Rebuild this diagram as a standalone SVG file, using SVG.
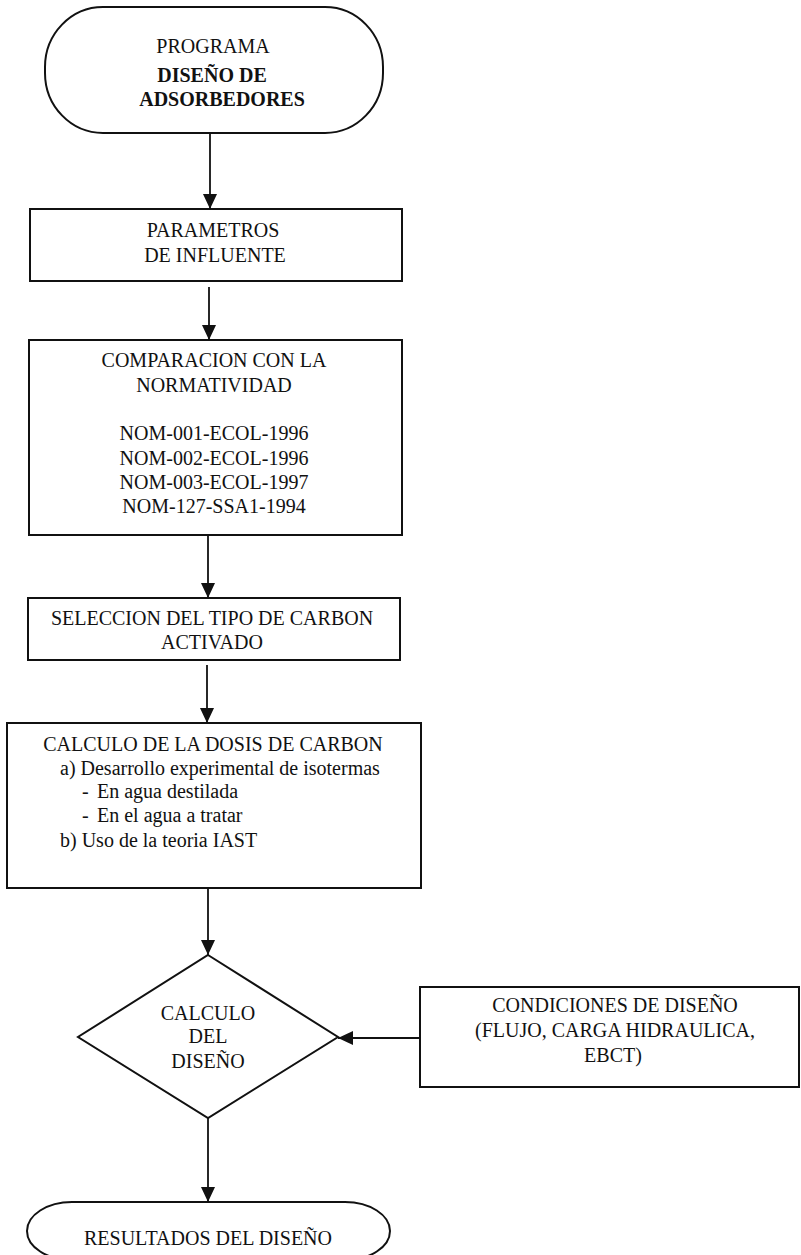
<svg xmlns="http://www.w3.org/2000/svg" width="801" height="1255" viewBox="0 0 801 1255">
<style>
.shape{fill:#fff;stroke:#111;stroke-width:2}
.t{font-family:"Liberation Serif","Times New Roman",serif;font-size:20px;fill:#111}
.c{text-anchor:middle}
.b{font-weight:bold}
.conn{stroke:#111;stroke-width:1.8;fill:none}
</style>
<defs>
<marker id="ah" markerUnits="userSpaceOnUse" markerWidth="15" markerHeight="14" refX="15" refY="7" orient="auto">
<path d="M0,0 L15,7 L0,14 Z" fill="#111"/>
</marker>
</defs>
<rect width="801" height="1255" fill="#fff"/>
<g id="n-programa">
<rect class="shape" x="45" y="7" width="338" height="126" rx="58" ry="60"/>
<text class="t c" x="213" y="53">PROGRAMA</text>
<text class="t c b" x="212" y="82">DISEÑO DE</text>
<text class="t c b" x="222" y="106">ADSORBEDORES</text>
</g>
<g id="n-parametros">
<rect class="shape" x="30" y="209" width="372" height="72"/>
<text class="t c" x="213" y="237">PARAMETROS</text>
<text class="t c" x="215" y="262">DE INFLUENTE</text>
</g>
<g id="n-comparacion">
<rect class="shape" x="29" y="340" width="373" height="195"/>
<text class="t c" x="214" y="367">COMPARACION CON LA</text>
<text class="t c" x="214" y="392">NORMATIVIDAD</text>
<text class="t c" x="214" y="440">NOM-001-ECOL-1996</text>
<text class="t c" x="214" y="465">NOM-002-ECOL-1996</text>
<text class="t c" x="214" y="489">NOM-003-ECOL-1997</text>
<text class="t c" x="214" y="513">NOM-127-SSA1-1994</text>
</g>
<g id="n-seleccion">
<rect class="shape" x="28" y="598" width="372" height="62"/>
<text class="t c" x="212" y="625">SELECCION DEL TIPO DE CARBON</text>
<text class="t c" x="212" y="649">ACTIVADO</text>
</g>
<g id="n-calculo-dosis">
<rect class="shape" x="7" y="723" width="414" height="165"/>
<text class="t c" x="213" y="751">CALCULO DE LA DOSIS DE CARBON</text>
<text class="t" x="60" y="775">a) Desarrollo experimental de isotermas</text>
<text class="t" x="82" y="798">-<tspan x="97">En agua destilada</tspan></text>
<text class="t" x="82" y="822">-<tspan x="97">En el agua a tratar</tspan></text>
<text class="t" x="60" y="847">b) Uso de la teoria IAST</text>
</g>
<g id="n-calculo-diseno">
<polygon class="shape" points="208,955 338,1037 208,1118 78,1037"/>
<text class="t c" x="208" y="1020">CALCULO</text>
<text class="t c" x="208" y="1043">DEL</text>
<text class="t c" x="208" y="1068">DISEÑO</text>
</g>
<g id="n-condiciones">
<rect class="shape" x="420" y="987" width="379" height="100"/>
<text class="t c" x="615" y="1012">CONDICIONES DE DISEÑO</text>
<text class="t c" x="615" y="1037">(FLUJO, CARGA HIDRAULICA,</text>
<text class="t c" x="613" y="1062">EBCT)</text>
</g>
<g id="n-resultados">
<rect class="shape" x="27" y="1202" width="363" height="58" rx="45" ry="29"/>
<text class="t c" x="208" y="1245">RESULTADOS DEL DISEÑO</text>
</g>
<g id="connectors">
<line class="conn" x1="210" y1="133" x2="210" y2="209" marker-end="url(#ah)"/>
<line class="conn" x1="209" y1="287" x2="209" y2="340" marker-end="url(#ah)"/>
<line class="conn" x1="208" y1="535" x2="208" y2="598" marker-end="url(#ah)"/>
<line class="conn" x1="207" y1="665" x2="207" y2="723" marker-end="url(#ah)"/>
<line class="conn" x1="208" y1="888" x2="208" y2="955" marker-end="url(#ah)"/>
<line class="conn" x1="208" y1="1118" x2="208" y2="1202" marker-end="url(#ah)"/>
<line class="conn" x1="420" y1="1038" x2="338" y2="1038" marker-end="url(#ah)"/>
</g>
</svg>
